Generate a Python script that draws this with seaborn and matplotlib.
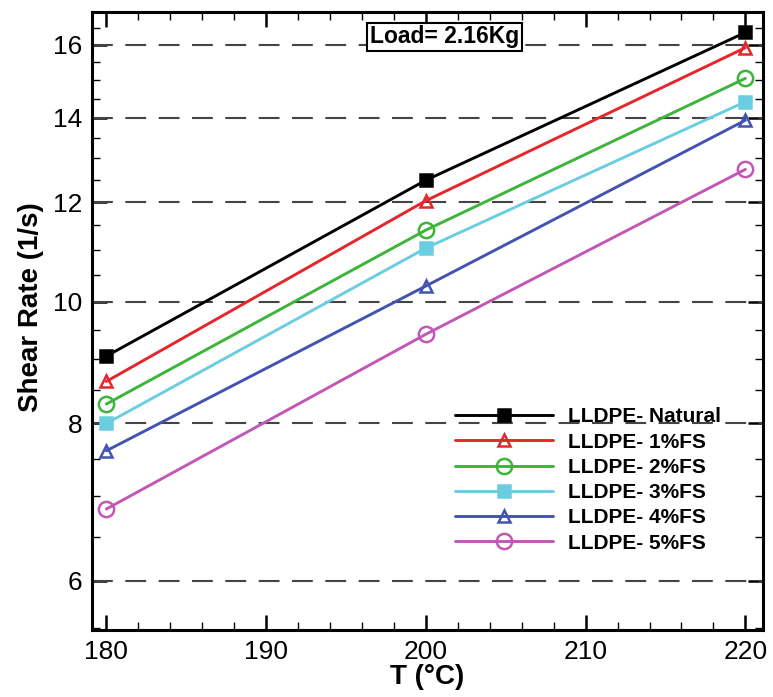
import numpy as np
import pandas as pd
import matplotlib
matplotlib.use("Agg")
import matplotlib.pyplot as plt
from matplotlib.ticker import FixedLocator, ScalarFormatter, NullFormatter, MultipleLocator
import seaborn as sns

temps = [180, 200, 220]
series_names = ["LLDPE- Natural", "LLDPE- 1%FS", "LLDPE- 2%FS",
                "LLDPE- 3%FS", "LLDPE- 4%FS", "LLDPE- 5%FS"]
natural = [9.05, 12.49, 16.37]
fs1 = [8.64, 12.03, 15.92]
fs2 = [8.29, 11.40, 15.05]
fs3 = [8.00, 11.03, 14.42]
fs4 = [7.61, 10.29, 13.94]
fs5 = [6.84, 9.42, 12.74]
y_ticks = [6, 8, 10, 12, 14, 16]
x_ticks = [180, 190, 200, 210, 220]

values = [natural, fs1, fs2, fs3, fs4, fs5]
colors = ["#000000", "#e5262b", "#3db43a", "#6bcde0", "#4353b2", "#c257b7"]
markers = ["s", "^", "o", "s", "^", "o"]
filled = [True, False, False, True, False, False]
msizes = [8, 9, 11, 8, 9, 11]

sns.set_style("ticks")
plt.rcParams["font.family"] = ["Liberation Sans", "DejaVu Sans"]
plt.rcParams["text.color"] = "black"
plt.rcParams["axes.labelcolor"] = "black"
plt.rcParams["xtick.color"] = "black"
plt.rcParams["ytick.color"] = "black"

fig = plt.figure(figsize=(7.73, 6.97), dpi=100)
ax = fig.add_axes([0.119, 0.096, 0.868, 0.887])

rows = []
for name, vals in zip(series_names, values):
    for t, v in zip(temps, vals):
        rows.append({"T": t, "rate": v, "series": name})
df = pd.DataFrame(rows)

ax.set_yscale("log")
for y in y_ticks:
    ax.axhline(y, color="#444444", lw=1.5, linestyle=(0, (10, 6)), zorder=1)

for name, c, m, f, ms in zip(series_names, colors, markers, filled, msizes):
    sub = df[df["series"] == name]
    sns.lineplot(data=sub, x="T", y="rate", ax=ax, color=c, marker=m,
                 markersize=ms, markerfacecolor=(c if f else "none"),
                 markeredgecolor=c, markeredgewidth=1.8, lw=2.1,
                 label=name, zorder=3)

ax.set_xlim(179.1, 221.1)
ax.set_ylim(5.48, 17.0)
ax.yaxis.set_major_locator(FixedLocator(y_ticks))
ax.yaxis.set_major_formatter(ScalarFormatter())
ax.yaxis.set_minor_locator(FixedLocator(list(np.arange(5.5, 17.01, 0.5))))
ax.yaxis.set_minor_formatter(NullFormatter())
ax.xaxis.set_major_locator(FixedLocator(x_ticks))
ax.xaxis.set_minor_locator(MultipleLocator(2))

ax.tick_params(which="major", direction="in", length=11, width=1.8,
               labelsize=19, top=True, right=True, pad=7, color="black",
               labelcolor="black")
ax.tick_params(which="minor", direction="in", length=6, width=1.0,
               top=True, right=True, color="black")
for s in ax.spines.values():
    s.set_linewidth(2.2)
    s.set_color("black")

ax.set_xlabel("T (°C)", fontsize=20, fontweight="bold", labelpad=0)
ax.set_ylabel("Shear Rate (1/s)", fontsize=20, fontweight="bold")
ax.yaxis.set_label_coords(-0.071, 0.523)

leg = ax.legend(loc="lower right", bbox_to_anchor=(0.965, 0.095), frameon=False,
                handlelength=4.7, labelspacing=0.3,
                handletextpad=0.7, prop={"weight": "bold", "size": 15})

ax.text(0.525, 0.978, "Load= 2.16Kg", transform=ax.transAxes, ha="center",
        va="top", fontsize=16.5, fontweight="bold", zorder=5,
        bbox=dict(boxstyle="square,pad=0.12", facecolor="white",
                  edgecolor="black", linewidth=1.5))

fig.savefig("out.png", dpi=100)
